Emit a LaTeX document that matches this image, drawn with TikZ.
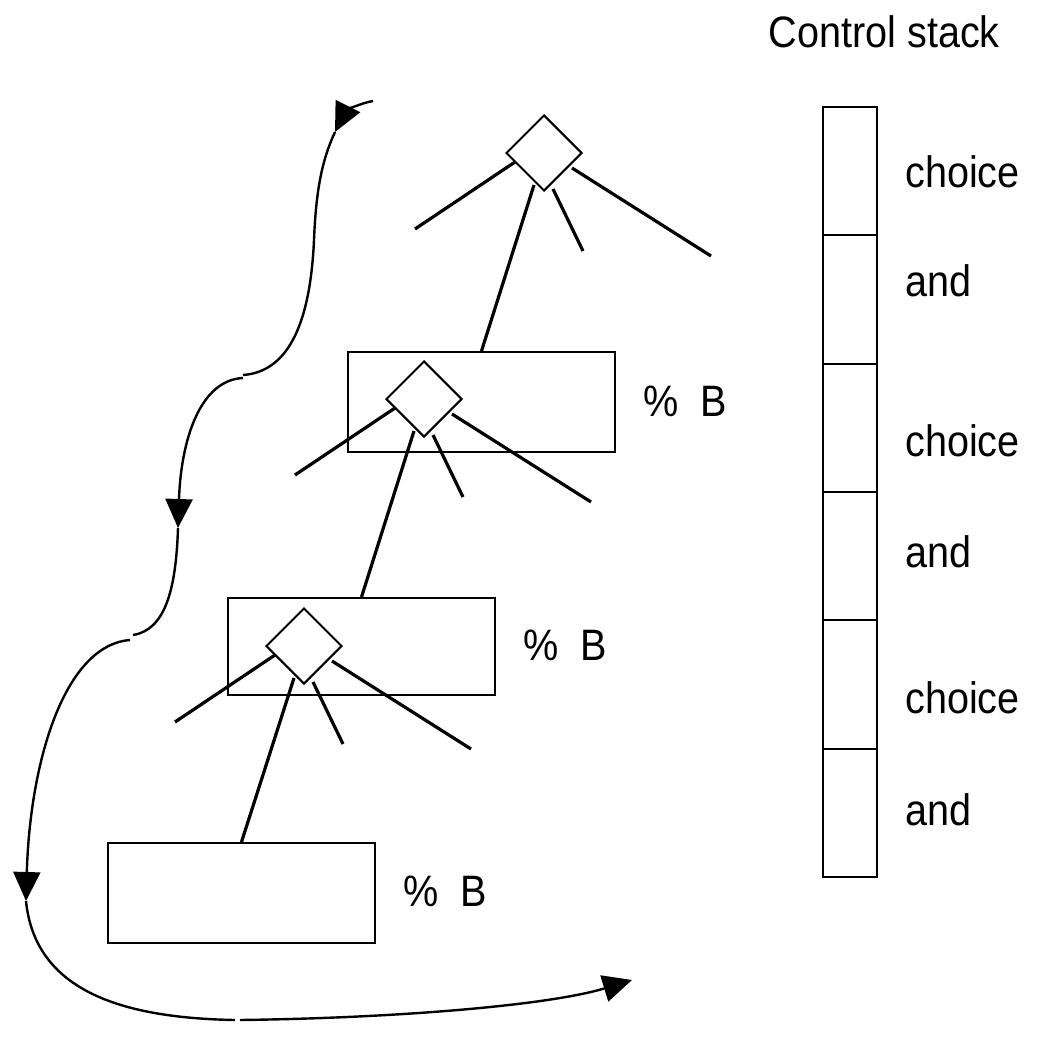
\documentclass[tikz,border=0pt]{standalone}
\usepackage{fontspec}
\setmainfont{Liberation Sans}[FakeStretch=0.9]
\usetikzlibrary{shapes.geometric,arrows.meta,calc}
\begin{document}
\begin{tikzpicture}[x=1pt,y=-1pt,
  lbl/.style={font=\fontsize{44}{50}\selectfont, inner sep=0pt},
  choicebox/.style={diamond, draw, line width=2pt, minimum width=76pt, minimum height=76pt, inner sep=0pt},
  goalbox/.style={rectangle, draw, line width=2pt, minimum width=267pt, minimum height=100pt, inner sep=0pt},
  cell/.style={rectangle, draw, line width=2pt, minimum width=54pt, minimum height=128.33pt, inner sep=0pt},
  branch/.style={line width=3.2pt},
  flow/.style={line width=2.4pt},
  tip/.style={-{Triangle[length=29pt,width=27pt]}}
]
\useasboundingbox (0,0) rectangle (1037,1044);

% search tree: choice points and goal boxes
\node[choicebox] (d1) at (544,153) {};
\node[goalbox] (b1) at (481.5,402) {};
\node[choicebox] (d2) at (424,399) {};
\node[goalbox, minimum height=97pt] (b2) at (361.5,646.5) {};
\node[choicebox] (d3) at (304,646) {};
\node[goalbox] (b3) at (241.5,893) {};

\foreach \d in {d1,d2,d3} {
  \draw[branch] ($(\d)+(-29,9)$) -- ($(\d)+(-129,76)$);
  \draw[branch] ($(\d)+(9,36)$) -- ($(\d)+(39,98)$);
  \draw[branch] ($(\d)+(28,15)$) -- ($(\d)+(167,103)$);
}
\draw[branch] ($(d1)+(-10,32)$) -- (b1.north);
\draw[branch] ($(d2)+(-10,32)$) -- (b2.north);
\draw[branch] ($(d3)+(-10,32)$) -- (b3.north);

\node[lbl, anchor=base west] (p1) at (643,416) {\%\ \ B};
\node[lbl, anchor=base west] (p2) at (523,660) {\%\ \ B};
\node[lbl, anchor=base west] (p3) at (403,906) {\%\ \ B};

% control stack
\foreach \i in {1,...,6}
  \node[cell] (s\i) at (850,{107+128.33*(\i-0.5)}) {};
\node[lbl, anchor=base east] (title) at (1000,47) {Control stack};
\node[lbl, anchor=west] (l1) at (905,172) {choice};
\node[lbl, anchor=west] (l2) at (905,281) {and};
\node[lbl, anchor=west] (l3) at (905,441) {choice};
\node[lbl, anchor=west] (l4) at (905,552) {and};
\node[lbl, anchor=west] (l5) at (905,698) {choice};
\node[lbl, anchor=west] (l6) at (905,810) {and};

% execution path
\coordinate (f0) at (373,101);
\coordinate (f1) at (335,132);
\coordinate (f2) at (243,375);
\coordinate (f3) at (243,378);
\coordinate (f4) at (178,528);
\coordinate (f5) at (133,635);
\coordinate (f6) at (130,640);
\coordinate (f7) at (26,901);
\coordinate (f8) at (235,1020);
\coordinate (f9) at (240,1020);
\coordinate (f10) at (632,980);

\draw[flow, tip] (f0) .. controls (360,103) and (345,112) .. (f1);
\draw[flow] (f1) .. controls (322,160) and (316,190) .. (314,240)
                 .. controls (310,330) and (285,372) .. (f2);
\draw[flow, tip] (f3) .. controls (200,380) and (181,440) .. (f4);
\draw[flow] (f4) .. controls (176,590) and (165,630) .. (f5);
\draw[flow, tip] (f6) .. controls (65,645) and (30,760) .. (f7);
\draw[flow] (f7) .. controls (35,990) and (120,1018) .. (f8);
\draw[flow, tip] (f9) .. controls (400,1018) and (550,1005) .. (f10);
\end{tikzpicture}
\end{document}
